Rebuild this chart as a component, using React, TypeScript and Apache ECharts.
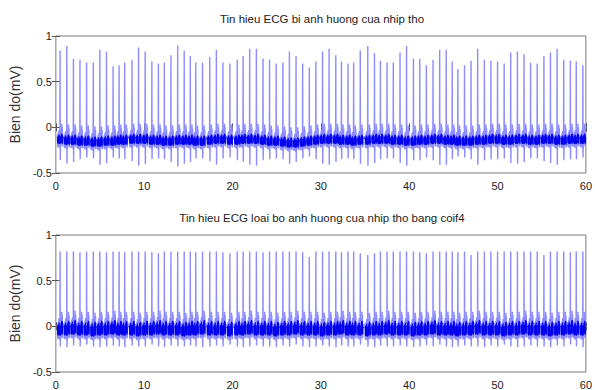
import React, { useEffect, useRef } from "react";
import * as echarts from "echarts";

// R-peak times (s)
const beatTimes = [
  0.48, 1.24, 1.99, 2.73, 3.48, 4.24, 4.98, 5.73, 6.48, 7.16, 7.79, 8.62, 9.36, 10.11, 10.87, 11.61, 12.28, 13.03, 13.79, 14.53,
  15.22, 15.84, 16.6, 17.42, 18.17, 18.91, 19.7, 20.53, 21.2, 21.94, 22.7, 23.45, 24.19, 24.94, 25.7, 26.44, 27.19, 27.94, 28.69, 29.44, 30.19,
  30.93, 31.69, 32.33, 33.07, 33.71, 34.46, 35.31, 36.07, 36.74, 37.49, 38.2, 38.96, 39.7, 40.48, 41.2, 41.94, 42.7, 43.45, 44.19, 44.87,
  45.51, 46.26, 47.0, 47.75, 48.51, 49.25, 50.0, 50.75, 51.49, 52.25, 53.0, 53.74, 54.49, 55.25, 55.99, 56.74, 57.49, 58.24, 58.91, 59.66,
];

// Top panel: R peak, S trough and baseline (mV)
const peakTop = [
  0.84, 0.89, 0.75, 0.74, 0.71, 0.71, 0.85, 0.83, 0.67, 0.68, 0.71, 0.74, 0.875, 0.83, 0.72, 0.7, 0.71, 0.79, 0.9, 0.84,
  0.78, 0.71, 0.71, 0.77, 0.85, 0.71, 0.7, 0.74, 0.78, 0.86, 0.86, 0.75, 0.74, 0.7, 0.71, 0.83, 0.78, 0.7, 0.655, 0.72, 0.83,
  0.86, 0.79, 0.72, 0.7, 0.71, 0.84, 0.89, 0.81, 0.73, 0.71, 0.71, 0.82, 0.89, 0.75, 0.75, 0.68, 0.74, 0.85, 0.85, 0.72,
  0.64, 0.68, 0.73, 0.86, 0.74, 0.73, 0.72, 0.7, 0.82, 0.83, 0.8, 0.71, 0.7, 0.78, 0.82, 0.86, 0.74, 0.73, 0.72, 0.68,
];
const troughTop = [
  -0.36, -0.4, -0.38, -0.35, -0.33, -0.34, -0.41, -0.39, -0.33, -0.34, -0.35, -0.37, -0.42, -0.4, -0.35, -0.34, -0.35, -0.38, -0.43, -0.4,
  -0.38, -0.34, -0.34, -0.37, -0.41, -0.34, -0.33, -0.36, -0.38, -0.41, -0.42, -0.36, -0.35, -0.34, -0.35, -0.4, -0.38, -0.34, -0.32, -0.35, -0.4,
  -0.41, -0.38, -0.35, -0.34, -0.35, -0.4, -0.42, -0.39, -0.35, -0.34, -0.34, -0.39, -0.42, -0.36, -0.36, -0.33, -0.36, -0.41, -0.41, -0.35,
  -0.32, -0.33, -0.35, -0.41, -0.36, -0.35, -0.35, -0.34, -0.39, -0.4, -0.38, -0.34, -0.34, -0.37, -0.39, -0.41, -0.36, -0.35, -0.35, -0.33,
];
const baseTop = [
  -0.13, -0.14, -0.14, -0.15, -0.15, -0.16, -0.16, -0.15, -0.15, -0.14, -0.14, -0.13, -0.13, -0.13, -0.14, -0.14, -0.15, -0.15, -0.14, -0.14,
  -0.14, -0.15, -0.15, -0.14, -0.13, -0.13, -0.14, -0.14, -0.13, -0.13, -0.13, -0.14, -0.15, -0.15, -0.16, -0.17, -0.17, -0.16, -0.15, -0.14, -0.13,
  -0.13, -0.13, -0.14, -0.14, -0.15, -0.14, -0.14, -0.13, -0.13, -0.13, -0.14, -0.14, -0.15, -0.15, -0.14, -0.14, -0.13, -0.13, -0.14, -0.14,
  -0.15, -0.15, -0.15, -0.14, -0.14, -0.13, -0.13, -0.14, -0.14, -0.13, -0.13, -0.14, -0.14, -0.13, -0.13, -0.14, -0.14, -0.13, -0.13, -0.13,
];

// Bottom panel (coif4 corrected)
const peakBottom = [
  0.82, 0.82, 0.82, 0.81, 0.82, 0.82, 0.82, 0.81, 0.82, 0.82, 0.81, 0.82, 0.82, 0.82, 0.81, 0.8, 0.82, 0.82, 0.82, 0.82,
  0.82, 0.81, 0.82, 0.82, 0.82, 0.81, 0.8, 0.82, 0.82, 0.82, 0.82, 0.81, 0.82, 0.82, 0.82, 0.82, 0.82, 0.81, 0.76, 0.82, 0.82,
  0.82, 0.82, 0.81, 0.82, 0.82, 0.8, 0.78, 0.8, 0.82, 0.82, 0.82, 0.82, 0.82, 0.82, 0.81, 0.8, 0.82, 0.82, 0.82, 0.82,
  0.81, 0.82, 0.78, 0.82, 0.82, 0.82, 0.82, 0.82, 0.82, 0.82, 0.82, 0.82, 0.82, 0.78, 0.82, 0.82, 0.82, 0.81, 0.82, 0.82,
];
const troughBottom = [
  -0.22, -0.23, -0.21, -0.22, -0.2, -0.22, -0.23, -0.22, -0.21, -0.22, -0.23, -0.21, -0.22, -0.22, -0.2, -0.22, -0.23, -0.21, -0.22, -0.22,
  -0.21, -0.22, -0.23, -0.22, -0.21, -0.22, -0.2, -0.22, -0.23, -0.22, -0.21, -0.22, -0.22, -0.23, -0.21, -0.22, -0.2, -0.22, -0.23, -0.22, -0.21,
  -0.22, -0.23, -0.21, -0.22, -0.22, -0.2, -0.22, -0.23, -0.21, -0.22, -0.22, -0.21, -0.22, -0.23, -0.22, -0.21, -0.22, -0.2, -0.22, -0.23,
  -0.22, -0.21, -0.22, -0.22, -0.23, -0.21, -0.22, -0.2, -0.22, -0.23, -0.22, -0.21, -0.22, -0.22, -0.23, -0.21, -0.22, -0.2, -0.22, -0.23,
];
const baseBottom = [
  -0.03, -0.03, -0.02, -0.03, -0.03, -0.04, -0.03, -0.03, -0.02, -0.03, -0.03, -0.03, -0.04, -0.03, -0.03, -0.02, -0.03, -0.03, -0.03, -0.04,
  -0.03, -0.03, -0.02, -0.03, -0.03, -0.03, -0.04, -0.03, -0.03, -0.02, -0.03, -0.03, -0.03, -0.04, -0.03, -0.03, -0.02, -0.03, -0.03, -0.03, -0.04,
  -0.03, -0.03, -0.02, -0.03, -0.03, -0.03, -0.04, -0.03, -0.03, -0.02, -0.03, -0.03, -0.03, -0.04, -0.03, -0.03, -0.02, -0.03, -0.03, -0.03,
  -0.04, -0.03, -0.03, -0.02, -0.03, -0.03, -0.03, -0.04, -0.03, -0.03, -0.02, -0.03, -0.03, -0.03, -0.04, -0.03, -0.03, -0.02, -0.03, -0.03,
];

// Beat shape around each R peak: offsets (s) and levels relative to baseline (mV)
const preDt = [-0.3, -0.27, -0.24, -0.21, -0.18, -0.15, -0.12, -0.09, -0.06, -0.03, -0.02];
const postDt = [0.04, 0.07, 0.1, 0.13, 0.16, 0.19, 0.22, 0.25, 0.28, 0.3];
const sDt = 0.02;
// full excursions (light trace)
const preLevelTop = [0.04, -0.08, 0.06, -0.09, 0.08, -0.07, 0.1, -0.08, 0.05, -0.1, -0.05];
const postLevelTop = [-0.09, 0.06, -0.07, 0.1, -0.06, 0.17, -0.05, 0.13, -0.08, 0.03];
const preLevelBottom = [0.06, -0.1, 0.07, -0.11, 0.09, -0.09, 0.12, -0.1, 0.06, -0.12, -0.07];
const postLevelBottom = [-0.12, 0.07, -0.1, 0.12, -0.08, 0.19, -0.07, 0.15, -0.1, 0.04];
// dense core of the trace (dark)
const preCoreTop = [0.02, -0.04, 0.03, -0.05, 0.04, -0.04, 0.05, -0.05, 0.03, -0.05, -0.02];
const postCoreTop = [-0.05, 0.03, -0.04, 0.05, -0.04, 0.06, -0.03, 0.05, -0.05, 0.02];
const preCoreBottom = [0.03, -0.06, 0.04, -0.07, 0.05, -0.06, 0.07, -0.06, 0.04, -0.07, -0.03];
const postCoreBottom = [-0.07, 0.04, -0.06, 0.07, -0.05, 0.09, -0.04, 0.08, -0.06, 0.02];

const xTicks = { min: 0, max: 60, interval: 10 };
const yTicks = { min: -0.5, max: 1, interval: 0.5 };
const titles = [
  "Tin hieu ECG bi anh huong cua nhip tho",
  "Tin hieu ECG loai bo anh huong cua nhip tho bang coif4",
];
const yName = "Bien do(mV)";

function buildSignal(
  peaks: number[] | null,
  troughs: number[] | null,
  bases: number[],
  pre: number[],
  post: number[]
): number[][] {
  const out: number[][] = [];
  beatTimes.forEach((t, i) => {
    const b = bases[i];
    preDt.forEach((d, k) => out.push([t + d, b + pre[k]]));
    if (peaks && troughs) {
      out.push([t, peaks[i]]);
      out.push([t + sDt, troughs[i]]);
    }
    postDt.forEach((d, k) => out.push([t + d, b + post[k]]));
  });
  return out;
}

const FONT = "Liberation Sans, Arial, Helvetica, sans-serif";

export default function App() {
  const ref = useRef<HTMLDivElement>(null);
  useEffect(() => {
    if (!ref.current) return;
    const chart = echarts.init(ref.current, null, { renderer: "svg" });
    const grids = [
      { left: 54, right: 6, top: 36, height: 137 },
      { left: 54, right: 6, top: 235, height: 137 },
    ];
    const xAxes: any[] = [];
    const yAxes: any[] = [];
    const tick = { inside: true, length: 4, lineStyle: { color: "#555" } };
    grids.forEach((_, g) => {
      xAxes.push({
        gridIndex: g, type: "value", ...xTicks, position: "bottom",
        axisLine: { show: false }, axisTick: tick,
        axisLabel: { color: "#222", fontSize: 11, fontFamily: FONT, margin: 7 },
        splitLine: { show: false },
      });
      xAxes.push({
        gridIndex: g, type: "value", ...xTicks, position: "top",
        axisLine: { show: false }, axisTick: tick, axisLabel: { show: false }, splitLine: { show: false },
      });
      yAxes.push({
        gridIndex: g, type: "value", ...yTicks, position: "left",
        name: yName, nameLocation: "middle", nameRotate: 90, nameGap: 29,
        nameTextStyle: { color: "#333", fontSize: 14, fontFamily: FONT },
        axisLine: { show: false }, axisTick: tick,
        axisLabel: { color: "#222", fontSize: 11, fontFamily: FONT, margin: 4 },
        splitLine: { show: false },
      });
      yAxes.push({
        gridIndex: g, type: "value", ...yTicks, position: "right",
        axisLine: { show: false }, axisTick: tick, axisLabel: { show: false }, splitLine: { show: false },
      });
    });
    const light = { color: "#8c8cff", width: 1.4 };
    const dark = { color: "#0000ee", width: 0.8 };
    const common = { type: "line", showSymbol: false, symbol: "none", silent: true };
    chart.setOption({
      animation: false,
      backgroundColor: "#ffffff",
      grid: grids.map((g) => ({ ...g, show: true, borderColor: "#7a7a7a", borderWidth: 1, backgroundColor: "transparent" })),
      xAxis: xAxes,
      yAxis: yAxes,
      graphic: [
        {
          type: "text", x: 322, y: 19,
          style: { text: titles[0], fontSize: 11.5, fontFamily: FONT, fill: "#222", textAlign: "center", textVerticalAlign: "middle" },
        },
        {
          type: "text", x: 322, y: 218,
          style: { text: titles[1], fontSize: 11.5, fontFamily: FONT, fill: "#222", textAlign: "center", textVerticalAlign: "middle" },
        },
      ],
      series: [
        { ...common, xAxisIndex: 0, yAxisIndex: 0, lineStyle: light,
          data: buildSignal(peakTop, troughTop, baseTop, preLevelTop, postLevelTop) },
        { ...common, xAxisIndex: 0, yAxisIndex: 0, lineStyle: dark,
          data: buildSignal(null, null, baseTop, preCoreTop, postCoreTop) },
        { ...common, xAxisIndex: 2, yAxisIndex: 2, lineStyle: light,
          data: buildSignal(peakBottom, troughBottom, baseBottom, preLevelBottom, postLevelBottom) },
        { ...common, xAxisIndex: 2, yAxisIndex: 2, lineStyle: dark,
          data: buildSignal(null, null, baseBottom, preCoreBottom, postCoreBottom) },
      ],
    });
    return () => chart.dispose();
  }, []);
  return (
    <div
      ref={ref}
      style={{ position: "absolute", left: 0, top: 0, width: 595, height: 390, background: "#fff" }}
    />
  );
}
